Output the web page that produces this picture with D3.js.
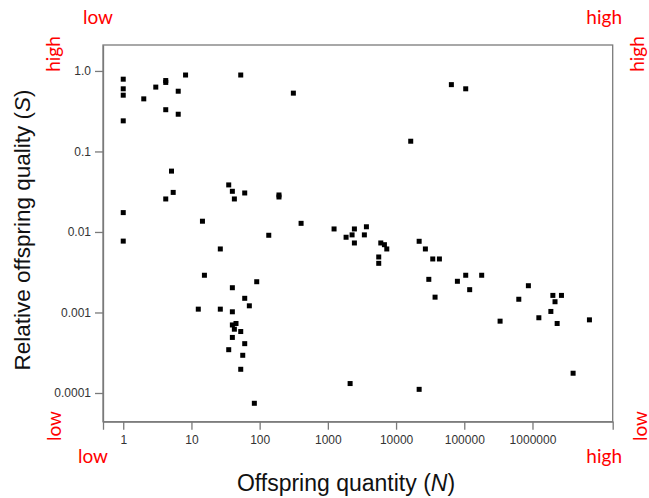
<!DOCTYPE html>
<html>
<head>
<meta charset="utf-8">
<script src="https://cdn.jsdelivr.net/npm/d3@7"></script>
<style>
  html, body { margin: 0; padding: 0; background: #fff; }
  svg { display: block; }
</style>
</head>
<body>
<svg id="chart" width="649" height="498"></svg>
<script>
// Offspring quantity (N)
const quantityN = [
  1, 1, 1, 1, 1, 1,
  2, 3, 4.2, 4.2, 6.4, 8.2, 4.2, 6.4, 52.8,
  5.1, 5.4, 4.2, 14.5, 26.5, 35.2, 39.8, 42.6, 60.4, 136,
  15.5, 39.8, 90.6, 60.4, 70.6, 12.6, 26.5, 39.8, 45, 39.8, 42.6, 52.8, 39.8, 60.4, 35.2, 56.5, 52.8, 83.6,
  312, 16400, 192, 192, 405, 1233, 2450, 3675, 1850, 2265, 3430, 2450,
  5570, 5570, 5970, 6750, 7310, 21800, 26900, 30200, 2120, 21800,
  64700, 105000, 34500, 43200, 37300, 79300, 105000, 120000, 180000,
  335000, 630000, 871000, 1240000, 1860000, 1990000, 2140000, 2300000, 2660000, 3940000, 6840000
];
// Relative offspring quality (S)
const qualityS = [
  0.79, 0.60, 0.50, 0.24, 0.0174, 0.0077,
  0.45, 0.63, 0.76, 0.72, 0.56, 0.89, 0.33, 0.29, 0.89,
  0.057, 0.031, 0.0257, 0.0136, 0.00615, 0.0384, 0.032, 0.0257, 0.0305, 0.0091,
  0.0029, 0.00203, 0.00241, 0.0015, 0.00121, 0.0011, 0.0011, 0.00102, 0.00073, 0.0007, 0.00062, 0.00058, 0.00049, 0.00041, 0.000345, 0.000294, 0.000197, 0.0000745,
  0.53, 0.134, 0.0288, 0.0272, 0.0128, 0.0109, 0.0109, 0.0116, 0.0086, 0.0092, 0.0092, 0.0073,
  0.00489, 0.00408, 0.0073, 0.00695, 0.00615, 0.00766, 0.00615, 0.00258, 0.000131, 0.000111,
  0.676, 0.60, 0.00462, 0.00462, 0.00155, 0.00244, 0.0029, 0.00192, 0.0029,
  0.00078, 0.00146, 0.00215, 0.00086, 0.00103, 0.00163, 0.00136, 0.00073, 0.00163, 0.000176, 0.00081
];
const xTickValues = [1, 10, 100, 1000, 10000, 100000, 1000000];
const xTickLabels = ["1", "10", "100", "1000", "10000", "100000", "1000000"];
const yTickValues = [1, 0.1, 0.01, 0.001, 0.0001];
const yTickLabels = ["1.0", "0.1", "0.01", "0.001", "0.0001"];

const svg = d3.select("#chart");
const pL = 103, pR = 612.7, pT = 45, pB = 421.7;

const x = d3.scaleLog().domain([0.505, 1.5e7]).range([pL, pR]);
const y = d3.scaleLog().domain([2.1, 4.4e-5]).range([pT, pB]);

// plot box
svg.append("rect")
  .attr("x", pL).attr("y", pT)
  .attr("width", pR - pL).attr("height", pB - pT)
  .attr("fill", "none").attr("stroke", "#7a7a7a").attr("stroke-width", 1.3);

// x axis
const xAxis = d3.axisBottom(x)
  .tickValues(xTickValues)
  .tickFormat((d, i) => xTickLabels[i])
  .tickSize(8).tickSizeOuter(8).tickPadding(6);
const gx = svg.append("g").attr("transform", `translate(0,${pB})`).call(xAxis);
gx.selectAll("path, line").attr("stroke", "#7a7a7a").attr("stroke-width", 1.3);
gx.selectAll("text").attr("font-family", "Liberation Sans, Arial, sans-serif")
  .attr("font-size", 12).attr("fill", "#333");

// y axis
const yAxis = d3.axisLeft(y)
  .tickValues(yTickValues)
  .tickFormat((d, i) => yTickLabels[i])
  .tickSize(8).tickSizeOuter(0).tickPadding(4);
const gy = svg.append("g").attr("transform", `translate(${pL},0)`).call(yAxis);
gy.selectAll("path, line").attr("stroke", "#7a7a7a").attr("stroke-width", 1.3);
gy.selectAll("text").attr("font-family", "Liberation Sans, Arial, sans-serif")
  .attr("font-size", 12).attr("fill", "#333");

// points
const pts = quantityN.map((n, i) => ({ n, s: qualityS[i] }));
const sz = 5;
svg.append("g").selectAll("rect").data(pts).enter().append("rect")
  .attr("x", d => x(d.n) - sz / 2)
  .attr("y", d => y(d.s) - sz / 2)
  .attr("width", sz).attr("height", sz)
  .attr("fill", "#000");

// axis titles
const xt = svg.append("text")
  .attr("x", 346).attr("y", 491)
  .attr("text-anchor", "middle")
  .attr("font-family", "Liberation Sans, Arial, sans-serif")
  .attr("font-size", 23).attr("fill", "#111");
xt.append("tspan").text("Offspring quantity (");
xt.append("tspan").attr("font-style", "italic").text("N");
xt.append("tspan").text(")");

const yt = svg.append("text")
  .attr("transform", "translate(30,230) rotate(-90)")
  .attr("text-anchor", "middle")
  .attr("font-family", "Liberation Sans, Arial, sans-serif")
  .attr("font-size", 22.5).attr("fill", "#111");
yt.append("tspan").text("Relative offspring quality (");
yt.append("tspan").attr("font-style", "italic").text("S");
yt.append("tspan").text(")");

// red low/high labels
const redFont = "Lato, 'Open Sans', sans-serif";
const red = (txt, tx, ty, anchor, rot) => {
  svg.append("text")
    .attr("transform", `translate(${tx},${ty})` + (rot ? ` rotate(${rot})` : ""))
    .attr("text-anchor", anchor)
    .attr("font-family", redFont)
    .attr("font-size", 19)
    .attr("fill", "#ff0000")
    .text(txt);
};
red("low", 83, 24, "start", 0);
red("high", 622, 24, "end", 0);
red("high", 60, 54, "middle", -90);
red("low", 61, 426, "middle", -90);
red("high", 644, 54, "middle", -90);
red("low", 646.5, 426, "middle", -90);
red("low", 78, 463, "start", 0);
red("high", 622, 463, "end", 0);
</script>
</body>
</html>
